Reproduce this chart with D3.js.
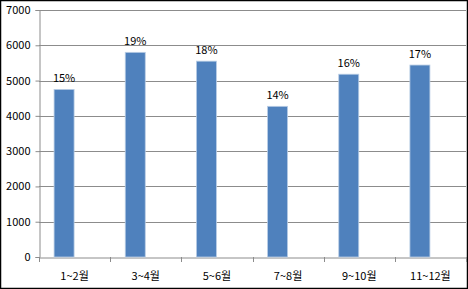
<!DOCTYPE html>
<html>
<head>
<meta charset="utf-8">
<script src="https://cdn.jsdelivr.net/npm/d3@7"></script>
<style>
  html, body { margin: 0; padding: 0; background: #fff; }
  svg { display: block; }
</style>
</head>
<body>
<div id="chart"></div>
<script>
// Data
const categories = ['1~2월', '3~4월', '5~6월', '7~8월', '9~10월', '11~12월'];
const values = [4750, 5800, 5550, 4270, 5180, 5440];
const percentLabels = ['15%', '19%', '18%', '14%', '16%', '17%'];
const yTicks = [0, 1000, 2000, 3000, 4000, 5000, 6000, 7000];

const width = 468, height = 289;
const margin = { top: 10, right: 2, bottom: 32, left: 39 };
const font = '"Noto Sans CJK KR", "Noto Sans", sans-serif';

const svg = d3.select('#chart').append('svg')
  .attr('width', width)
  .attr('height', height);

// outer frame
svg.append('rect')
  .attr('x', 0.5).attr('y', 0.5)
  .attr('width', width - 1).attr('height', height - 1)
  .attr('fill', '#fff')
  .attr('stroke', '#000')
  .attr('stroke-width', 1.5);

const x = d3.scaleBand()
  .domain(categories)
  .range([margin.left, width - margin.right])
  .padding(0);

const y = d3.scaleLinear()
  .domain([0, 7000])
  .range([height - margin.bottom, margin.top]);

// gridlines
svg.append('g')
  .selectAll('line')
  .data(yTicks.filter(d => d > 0))
  .enter().append('line')
  .attr('x1', margin.left)
  .attr('x2', width - margin.right)
  .attr('y1', d => Math.round(y(d)) + 0.5)
  .attr('y2', d => Math.round(y(d)) + 0.5)
  .attr('stroke', '#8c8c8c')
  .attr('stroke-width', 1);

// y axis
const yAxis = svg.append('g')
  .attr('transform', `translate(${margin.left + 0.5},0)`)
  .call(d3.axisLeft(y).tickValues(yTicks).tickSize(4).tickPadding(5).tickFormat(d3.format('d')));
yAxis.select('.domain').attr('stroke', '#8c8c8c');
yAxis.selectAll('.tick line').attr('stroke', '#8c8c8c');
yAxis.selectAll('text')
  .attr('font-family', font)
  .attr('font-size', 11)
  .attr('fill', '#000');

// x axis
const xAxis = svg.append('g')
  .attr('transform', `translate(0,${Math.round(y(0)) + 0.5})`)
  .call(d3.axisBottom(x).tickSize(0).tickPadding(15));
xAxis.select('.domain').attr('stroke', '#8c8c8c');
xAxis.selectAll('text')
  .attr('font-family', font)
  .attr('font-size', 11)
  .attr('fill', '#000');

// category separator ticks
svg.append('g')
  .selectAll('line')
  .data(categories.map(c => x(c)).concat([x.range()[1]]))
  .enter().append('line')
  .attr('x1', d => Math.round(d) + 0.5)
  .attr('x2', d => Math.round(d) + 0.5)
  .attr('y1', Math.round(y(0)))
  .attr('y2', Math.round(y(0)) + 5)
  .attr('stroke', '#8c8c8c');

// bars (first series of a two-slot cluster, so they sit left of centre)
const barW = 20;
svg.append('g')
  .selectAll('rect')
  .data(values)
  .enter().append('rect')
  .attr('x', (d, i) => x(categories[i]) + x.bandwidth() / 2 - barW - 0.5)
  .attr('y', d => y(d))
  .attr('width', barW)
  .attr('height', d => y(0) - y(d))
  .attr('fill', '#4f81bd')
  .attr('stroke', '#b9cde5')
  .attr('stroke-width', 0.8);

// percentage labels
svg.append('g')
  .selectAll('text')
  .data(values)
  .enter().append('text')
  .attr('x', (d, i) => x(categories[i]) + x.bandwidth() / 2 - barW / 2 - 0.5)
  .attr('y', d => y(d) - 7)
  .attr('text-anchor', 'middle')
  .attr('font-family', font)
  .attr('font-size', 11)
  .attr('fill', '#000')
  .text((d, i) => percentLabels[i]);
</script>
</body>
</html>
